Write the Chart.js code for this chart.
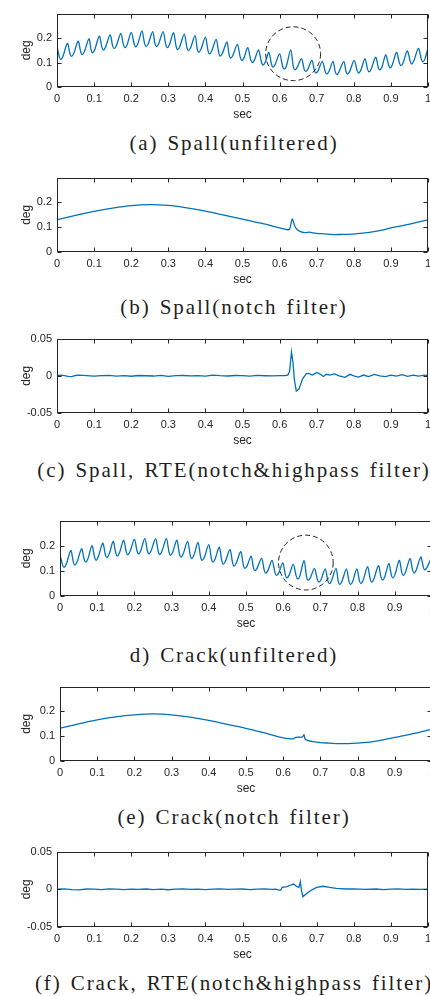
<!DOCTYPE html>
<html>
<head>
<meta charset="utf-8">
<script src="https://cdn.jsdelivr.net/npm/chart.js@4.4.1/dist/chart.umd.min.js"></script>
<style>
html, body { margin: 0; padding: 0; background: #fff; }
body { width: 430px; height: 996px; overflow: hidden; position: relative; }
canvas { position: absolute; left: 0; }
.cap { position: absolute; left: 0; width: 468px; text-align: center; white-space: nowrap;
       font-family: "Liberation Serif", "DejaVu Serif", serif; font-size: 21px; line-height: 24px;
       letter-spacing: 1.9px; word-spacing: 2px; color: #1e1e1e; }
</style>
</head>
<body>
<canvas id="a"></canvas><div class="cap" id="capa"></div>
<canvas id="b"></canvas><div class="cap" id="capb"></div>
<canvas id="c"></canvas><div class="cap" id="capc"></div>
<canvas id="d"></canvas><div class="cap" id="capd"></div>
<canvas id="e"></canvas><div class="cap" id="cape"></div>
<canvas id="f"></canvas><div class="cap" id="capf"></div>
<script>
// tick values / labels
var xTicks = [0, 0.1, 0.2, 0.3, 0.4, 0.5, 0.6, 0.7, 0.8, 0.9, 1];
var xTickLabels = ["0", "0.1", "0.2", "0.3", "0.4", "0.5", "0.6", "0.7", "0.8", "0.9", "1"];
var degTicks = [0, 0.1, 0.2];
var degTickLabels = ["0", "0.1", "0.2"];
var rteTicks = [-0.05, 0, 0.05];
var rteTickLabels = ["-0.05", "0", "0.05"];

var captions = [
  "(a) Spall(unfiltered)",
  "(b) Spall(notch filter)",
  "(c) Spall, RTE(notch&highpass filter)",
  "d) Crack(unfiltered)",
  "(e) Crack(notch filter)",
  "(f) Crack, RTE(notch&highpass filter)"
];

// (a) spall, unfiltered : shoulder, trough, shoulder, peak ...
var spallRawT = [0.000, 0.006, 0.010, 0.016, 0.028,
  0.035, 0.039, 0.045, 0.057,  0.064, 0.068, 0.074, 0.086,  0.092, 0.096, 0.102, 0.114,
  0.121, 0.125, 0.131, 0.143,  0.150, 0.154, 0.160, 0.172,  0.179, 0.183, 0.189, 0.200,
  0.208, 0.212, 0.218, 0.229,  0.236, 0.240, 0.246, 0.258,  0.264, 0.268, 0.274, 0.286,
  0.293, 0.297, 0.303, 0.314,  0.321, 0.325, 0.331, 0.343,  0.350, 0.354, 0.360, 0.372,
  0.378, 0.382, 0.388, 0.400,  0.407, 0.411, 0.417, 0.429,  0.436, 0.440, 0.446, 0.458,
  0.464, 0.468, 0.474, 0.486,  0.494, 0.498, 0.504, 0.514,  0.522, 0.526, 0.532, 0.543,
  0.551, 0.555, 0.561, 0.571,  0.578, 0.582, 0.588, 0.600,  0.608, 0.612, 0.618, 0.630,
  0.637, 0.641, 0.647, 0.659,  0.666, 0.670, 0.676, 0.687,  0.694, 0.698, 0.704, 0.715,
  0.723, 0.727, 0.733, 0.744,  0.750, 0.754, 0.760, 0.773,  0.779, 0.783, 0.789, 0.801,
  0.809, 0.813, 0.819, 0.830,  0.837, 0.841, 0.847, 0.859,  0.866, 0.870, 0.876, 0.886,
  0.894, 0.898, 0.904, 0.915,  0.923, 0.927, 0.933, 0.944,  0.952, 0.956, 0.962, 0.974,
  0.982, 0.986, 0.992, 1.000];
var spallRawV = [0.167, 0.124, 0.112, 0.125, 0.178,
  0.136, 0.125, 0.137, 0.187,  0.143, 0.132, 0.145, 0.197,  0.151, 0.140, 0.154, 0.208,
  0.162, 0.151, 0.163, 0.213,  0.168, 0.157, 0.169, 0.219,  0.173, 0.161, 0.173, 0.223,
  0.176, 0.164, 0.177, 0.229,  0.178, 0.165, 0.177, 0.226,  0.177, 0.165, 0.177, 0.226,
  0.174, 0.161, 0.173, 0.222,  0.167, 0.153, 0.166, 0.216,  0.162, 0.148, 0.160, 0.210,
  0.156, 0.142, 0.154, 0.204,  0.149, 0.135, 0.147, 0.195,  0.140, 0.126, 0.138, 0.184,
  0.131, 0.118, 0.129, 0.174,  0.121, 0.108, 0.119, 0.161,  0.112, 0.100, 0.110, 0.152,
  0.102, 0.090, 0.100, 0.142,  0.093, 0.081, 0.092, 0.135,  0.085, 0.073, 0.084, 0.152,
  0.082, 0.070, 0.079, 0.116,  0.074, 0.064, 0.073, 0.109,  0.067, 0.057, 0.067, 0.105,
  0.063, 0.053, 0.063, 0.105,  0.062, 0.051, 0.062, 0.105,  0.063, 0.053, 0.064, 0.109,
  0.067, 0.057, 0.069, 0.116,  0.073, 0.062, 0.074, 0.122,  0.080, 0.070, 0.082, 0.131,
  0.089, 0.078, 0.091, 0.142,  0.098, 0.087, 0.099, 0.148,  0.105, 0.094, 0.107, 0.158,
  0.114, 0.103, 0.115, 0.162];

// (b) spall, notch filter
var spallNotchT = [0, 0.05, 0.1, 0.15, 0.2, 0.25, 0.3, 0.35, 0.4, 0.45, 0.5, 0.55, 0.6, 0.62,
  0.627, 0.634, 0.641, 0.648, 0.66, 0.67, 0.68, 0.69, 0.7, 0.72, 0.745, 0.77, 0.8, 0.83,
  0.85, 0.875, 0.9, 0.925, 0.95, 0.975, 1.0];
var spallNotchV = [0.130, 0.148, 0.164, 0.177, 0.187, 0.191, 0.188, 0.178, 0.165, 0.149, 0.133, 0.116, 0.097, 0.090,
  0.092, 0.133, 0.104, 0.090, 0.080, 0.078, 0.080, 0.077, 0.075, 0.073, 0.070, 0.071, 0.072, 0.077,
  0.081, 0.088, 0.097, 0.104, 0.112, 0.121, 0.130];

// (c) spall, RTE
var spallRteT = [0, 0.01, 0.02, 0.03, 0.04, 0.05, 0.06, 0.08, 0.1, 0.12, 0.14, 0.16, 0.18, 0.2,
  0.22, 0.24, 0.26, 0.28, 0.3, 0.32, 0.34, 0.36, 0.38, 0.4, 0.42, 0.44, 0.46, 0.48, 0.5,
  0.52, 0.54, 0.56, 0.58, 0.6, 0.615, 0.622, 0.627, 0.632, 0.636, 0.640, 0.645, 0.652,
  0.662, 0.672, 0.68, 0.688, 0.695, 0.701, 0.71, 0.718, 0.726, 0.735, 0.748, 0.76, 0.776,
  0.79, 0.8, 0.813, 0.826, 0.84, 0.855, 0.87, 0.885, 0.9, 0.915, 0.93, 0.945, 0.96, 0.975, 0.99, 1.0];
var spallRteV = [0.0005, 0.001, 0.0003, -0.0008, -0.0012, 0.0004, 0.001, 0.0002, -0.0005, 0.0003, 0.0006, -0.0004, 0.0002, -0.0006,
  0.0004, 0.0001, -0.0003, 0.0005, -0.0007, 0.0002, 0.0004, -0.0002, 0.0003, -0.0004, 0.0008, 0.0001, -0.0003, 0.0004, 0.0002,
  -0.0004, 0.0005, 0.0001, -0.0002, 0.0003, 0.0004, 0.001, 0.006, 0.032, 0.018, -0.006, -0.0205, -0.018,
  -0.004, 0.003, 0.003, 0.001, 0.003, 0.0045, 0.002, -0.001, 0.002, 0.001, 0.0025, 0, -0.002,
  0.002, 0, -0.0017, 0.001, -0.001, 0.002, 0, -0.001, 0.001, -0.0005, 0.0015, -0.0008, 0.001, -0.0003, 0.0008, 0.0002];

// (d) crack, unfiltered
var crackRawT = [0.000, 0.007, 0.011, 0.017, 0.029,
  0.036, 0.040, 0.046, 0.058,  0.065, 0.069, 0.075, 0.086,  0.093, 0.097, 0.103, 0.115,
  0.122, 0.126, 0.132, 0.143,  0.150, 0.154, 0.160, 0.171,  0.178, 0.182, 0.188, 0.200,
  0.207, 0.211, 0.217, 0.228,  0.235, 0.239, 0.245, 0.257,  0.264, 0.268, 0.274, 0.286,
  0.293, 0.297, 0.303, 0.314,  0.321, 0.325, 0.331, 0.343,  0.350, 0.354, 0.360, 0.371,
  0.378, 0.382, 0.388, 0.400,  0.407, 0.411, 0.417, 0.428,  0.435, 0.439, 0.445, 0.457,
  0.464, 0.468, 0.474, 0.486,  0.493, 0.497, 0.503, 0.514,  0.520, 0.524, 0.530, 0.542,
  0.549, 0.553, 0.559, 0.570,  0.578, 0.582, 0.588, 0.599,  0.606, 0.610, 0.616, 0.627,
  0.635, 0.639, 0.645, 0.656,  0.663, 0.667, 0.673, 0.684,  0.692, 0.696, 0.702, 0.713,
  0.720, 0.724, 0.730, 0.742,  0.748, 0.752, 0.758, 0.770,  0.777, 0.781, 0.787, 0.798,
  0.805, 0.809, 0.815, 0.827,  0.834, 0.838, 0.844, 0.856,  0.863, 0.867, 0.873, 0.884,
  0.891, 0.895, 0.901, 0.912,  0.919, 0.923, 0.929, 0.941,  0.948, 0.952, 0.958, 0.970,
  0.977, 0.981, 0.987, 1.000];
var crackRawV = [0.165, 0.124, 0.114, 0.127, 0.181,
  0.135, 0.123, 0.136, 0.188,  0.146, 0.135, 0.148, 0.200,  0.154, 0.142, 0.156, 0.210,
  0.164, 0.153, 0.166, 0.217,  0.171, 0.159, 0.172, 0.222,  0.176, 0.164, 0.176, 0.226,
  0.180, 0.168, 0.180, 0.229,  0.180, 0.168, 0.180, 0.228,  0.178, 0.165, 0.178, 0.228,
  0.175, 0.162, 0.174, 0.222,  0.168, 0.155, 0.167, 0.217,  0.163, 0.149, 0.162, 0.213,
  0.156, 0.142, 0.154, 0.204,  0.149, 0.135, 0.147, 0.194,  0.140, 0.127, 0.139, 0.185,
  0.132, 0.119, 0.131, 0.177,  0.123, 0.110, 0.120, 0.159,  0.113, 0.101, 0.111, 0.150,
  0.103, 0.091, 0.101, 0.142,  0.094, 0.082, 0.092, 0.132,  0.084, 0.072, 0.083, 0.126,
  0.080, 0.068, 0.080, 0.142,  0.076, 0.063, 0.072, 0.110,  0.066, 0.055, 0.066, 0.108,
  0.061, 0.049, 0.061, 0.110,  0.059, 0.046, 0.058, 0.108,  0.058, 0.046, 0.058, 0.108,
  0.061, 0.049, 0.063, 0.117,  0.067, 0.055, 0.068, 0.121,  0.075, 0.063, 0.076, 0.129,
  0.083, 0.072, 0.086, 0.142,  0.093, 0.081, 0.095, 0.149,  0.103, 0.091, 0.104, 0.155,
  0.114, 0.104, 0.115, 0.158];

// (e) crack, notch filter
var crackNotchT = [0, 0.05, 0.1, 0.15, 0.2, 0.25, 0.3, 0.35, 0.4, 0.45, 0.5, 0.55, 0.6, 0.62,
  0.628, 0.634, 0.645, 0.652, 0.656, 0.659, 0.665, 0.68, 0.7, 0.725, 0.75, 0.775, 0.8,
  0.825, 0.85, 0.875, 0.9, 0.925, 0.95, 0.975, 1.0];
var crackNotchV = [0.132, 0.150, 0.166, 0.178, 0.186, 0.190, 0.186, 0.177, 0.164, 0.148, 0.132, 0.113, 0.093, 0.089,
  0.090, 0.095, 0.096, 0.097, 0.106, 0.088, 0.083, 0.078, 0.074, 0.072, 0.070, 0.070, 0.072,
  0.075, 0.080, 0.087, 0.095, 0.102, 0.110, 0.119, 0.129];

// (f) crack, RTE
var crackRteT = [0, 0.02, 0.04, 0.06, 0.08, 0.1, 0.12, 0.14, 0.16, 0.18, 0.2, 0.22, 0.24, 0.26,
  0.28, 0.3, 0.32, 0.34, 0.36, 0.38, 0.4, 0.42, 0.44, 0.46, 0.48, 0.5, 0.52, 0.54, 0.56,
  0.58, 0.59, 0.598, 0.603, 0.607, 0.62, 0.632, 0.638, 0.645, 0.652, 0.656, 0.659, 0.663,
  0.672, 0.686, 0.7, 0.717, 0.735, 0.753, 0.78, 0.8, 0.83, 0.86, 0.88, 0.9, 0.92, 0.94,
  0.96, 0.98, 1.0];
var crackRteV = [0.0003, 0.0006, -0.0003, -0.0008, 0.0004, 0.0001, -0.0004, 0.0005, 0.0002, -0.0005, 0.0003, -0.0002, 0.0004, -0.0003,
  0.0001, -0.0006, 0.0003, 0.0005, -0.0002, 0.0002, -0.0004, 0.0003, 0.0006, -0.0002, 0.0001, 0.0004, -0.0003, 0.0002, 0.0005,
  -0.0002, 0.0001, -0.001, -0.001, 0.0025, 0.0035, 0.006, 0.007, 0.004, 0.0025, 0.010, -0.002, -0.010,
  -0.006, -0.001, 0.0025, 0.004, 0.0025, 0.0013, 0.0004, 0.0006, -0.0002, 0.0004, -0.0003, 0.0002, 0.0005, -0.0002,
  0.0003, -0.0001, 0.0002];

// dashed circles: [center sec, center deg, radius sec, radius deg]
var spallCircle = [0.6365, 0.136, 0.074, 0.110];
var crackCircle = [0.661, 0.133, 0.0735, 0.109];

var INK = "#262626";
var BLUE = "#0072BD";

var framePlugin = {
  id: "frame",
  afterDatasetsDraw: function (chart, args, opts) {
    var ctx = chart.ctx, a = chart.chartArea, x = chart.scales.x, y = chart.scales.y;
    var L = Math.round(a.left) + 0.5, R = Math.round(a.right) - 0.5;
    var T = Math.round(a.top) + 0.5, B = Math.round(a.bottom) - 0.5;
    ctx.save();
    ctx.strokeStyle = INK;
    ctx.lineWidth = 1;
    ctx.strokeRect(L, T, R - L, B - T);
    ctx.beginPath();
    x.ticks.forEach(function (t) {
      var px = Math.round(x.getPixelForValue(t.value)) + 0.5;
      ctx.moveTo(px, B); ctx.lineTo(px, B - 4);
      ctx.moveTo(px, T); ctx.lineTo(px, T + 4);
    });
    y.ticks.forEach(function (t) {
      var py = Math.round(y.getPixelForValue(t.value)) + 0.5;
      ctx.moveTo(L, py); ctx.lineTo(L + 4, py);
      ctx.moveTo(R, py); ctx.lineTo(R - 4, py);
    });
    ctx.stroke();
    if (opts.circle) {
      var c = opts.circle;
      var cx = x.getPixelForValue(c[0]), cy = y.getPixelForValue(c[1]);
      var rx = x.getPixelForValue(c[0] + c[2]) - cx;
      var ry = cy - y.getPixelForValue(c[1] + c[3]);
      ctx.setLineDash([5, 3]);
      ctx.strokeStyle = "#222";
      ctx.beginPath();
      ctx.ellipse(cx, cy, rx, ry, 0, 0, Math.PI * 2);
      ctx.stroke();
    }
    ctx.restore();
  }
};

function makePanel(id, box, tArr, vArr, yMin, yMax, yTicks, yLabels, tension, circle, capIdx, capY) {
  var canvas = document.getElementById(id);
  var cw = 440, padTop = 8, axisH = 36;
  var ch = (box.B - box.T) + padTop + axisH;
  canvas.width = cw; canvas.height = ch;
  canvas.style.width = cw + "px"; canvas.style.height = ch + "px";
  canvas.style.top = (box.T - padTop) + "px";

  var pts = tArr.map(function (t, i) { return { x: t, y: vArr[i] }; });
  var tickFont = { family: "'Liberation Sans', Arial, sans-serif", size: 11 };
  var titleFont = { family: "'Liberation Sans', Arial, sans-serif", size: 12 };

  new Chart(canvas.getContext("2d"), {
    type: "line",
    data: {
      datasets: [{
        data: pts,
        borderColor: BLUE,
        borderWidth: 1.3,
        pointRadius: 0,
        tension: tension,
        fill: false
      }]
    },
    options: {
      responsive: false,
      animation: false,
      events: [],
      layout: { padding: { top: padTop, left: 0, right: cw - box.R, bottom: 0 } },
      plugins: { legend: { display: false }, tooltip: { enabled: false }, frame: { circle: circle } },
      scales: {
        x: {
          type: "linear", min: 0, max: 1,
          afterBuildTicks: function (s) { s.ticks = xTicks.map(function (v) { return { value: v }; }); },
          afterFit: function (s) { s.height = axisH; },
          grid: { display: false, drawTicks: false },
          border: { display: false },
          ticks: { padding: 5, color: INK, font: tickFont, maxRotation: 0, autoSkip: false,
                   callback: function (v, i) { return xTickLabels[i]; } },
          title: { display: true, text: "sec", color: INK, font: titleFont, padding: { top: 0, bottom: 1 } }
        },
        y: {
          type: "linear", min: yMin, max: yMax,
          afterBuildTicks: function (s) { s.ticks = yTicks.map(function (v) { return { value: v }; }); },
          afterFit: function (s) { s.width = box.L; },
          grid: { display: false, drawTicks: false },
          border: { display: false },
          ticks: { padding: 5, color: INK, font: tickFont, autoSkip: false,
                   callback: function (v, i) { return yLabels[i]; } },
          title: { display: true, text: "deg", color: INK, font: titleFont, padding: { top: 19, bottom: 0 } }
        }
      }
    },
    plugins: [framePlugin]
  });

  var cap = document.getElementById("cap" + id);
  cap.textContent = captions[capIdx];
  cap.style.top = (capY - 12) + "px";
}

makePanel("a", { L: 57, R: 428, T: 10, B: 87 }, spallRawT, spallRawV, 0, 0.3, degTicks, degTickLabels, 0.3, spallCircle, 0, 143);
makePanel("b", { L: 57, R: 428, T: 174, B: 252 }, spallNotchT, spallNotchV, 0, 0.3, degTicks, degTickLabels, 0.3, null, 1, 307);
makePanel("c", { L: 57, R: 428, T: 335, B: 413 }, spallRteT, spallRteV, -0.05, 0.05, rteTicks, rteTickLabels, 0, null, 2, 470);
makePanel("d", { L: 60, R: 434, T: 517, B: 596 }, crackRawT, crackRawV, 0, 0.3, degTicks, degTickLabels, 0.3, crackCircle, 3, 655);
makePanel("e", { L: 60, R: 434, T: 683, B: 761 }, crackNotchT, crackNotchV, 0, 0.3, degTicks, degTickLabels, 0.3, null, 4, 817);
makePanel("f", { L: 57, R: 428, T: 848, B: 927 }, crackRteT, crackRteV, -0.05, 0.05, rteTicks, rteTickLabels, 0, null, 5, 983);
</script>
</body>
</html>
